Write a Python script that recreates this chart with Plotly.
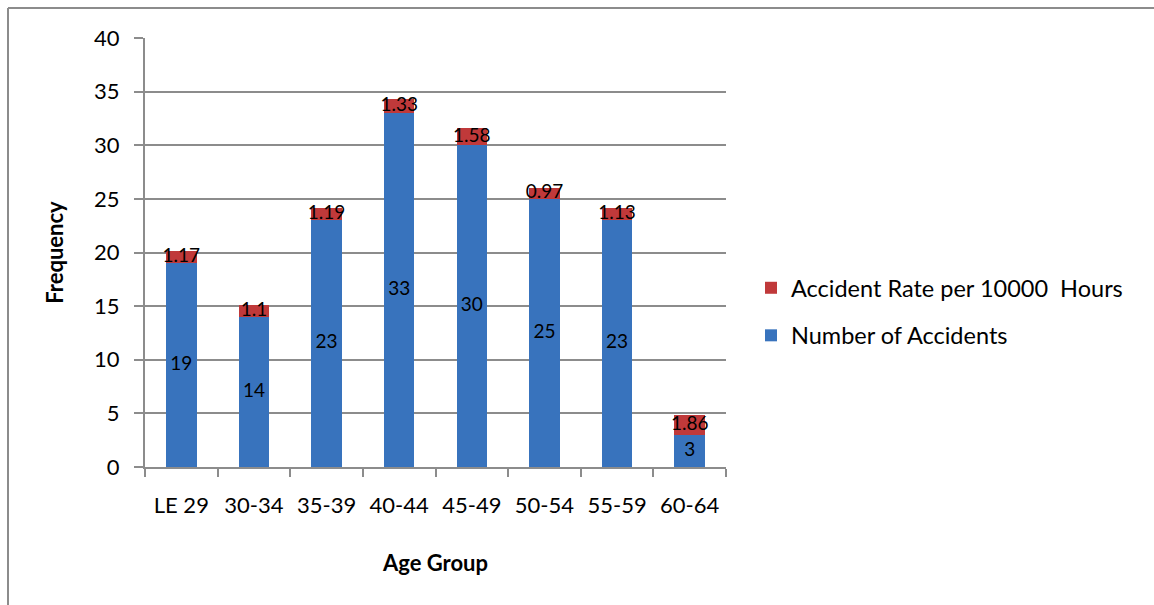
import plotly.graph_objects as go

# Accidents by age group, stacked with accident rate per 10000 hours
age_groups = ["LE 29", "30-34", "35-39", "40-44", "45-49", "50-54", "55-59", "60-64"]
num_accidents = [19, 14, 23, 33, 30, 25, 23, 3]
accident_rate = [1.17, 1.1, 1.19, 1.33, 1.58, 0.97, 1.13, 1.86]

BLUE = "#3873BD"
RED = "#C0393A"
GRID = "#8C8C8C"
FONT = "Lato"

W, H = 1154, 605
L, R, T, B = 145, 428, 38, 138

fig = go.Figure()

fig.add_trace(go.Bar(
    x=age_groups, y=num_accidents, name="Number of Accidents",
    marker=dict(color=BLUE, line=dict(width=0)),
    width=0.42, legendgroup="b", legendrank=2,
))
fig.add_trace(go.Bar(
    x=age_groups, y=accident_rate, name="Accident Rate per 10000  Hours",
    marker=dict(color=RED, line=dict(width=0)),
    width=0.42, legendgroup="a", legendrank=1,
))

# value labels centred in each stacked segment
fig.add_trace(go.Scatter(
    x=age_groups, y=[v / 2 for v in num_accidents],
    text=[str(v) for v in num_accidents], mode="text",
    textfont=dict(family=FONT, size=19, color="black"),
    showlegend=False, hoverinfo="skip",
))
fig.add_trace(go.Scatter(
    x=age_groups, y=[n + r / 2 for n, r in zip(num_accidents, accident_rate)],
    text=[f"{r:g}" for r in accident_rate], mode="text",
    textfont=dict(family=FONT, size=19, color="black"),
    showlegend=False, hoverinfo="skip",
))

pw = W - L - R
ph = H - T - B

fig.update_layout(
    width=W, height=H,
    margin=dict(l=L, r=R, t=T, b=B, pad=0),
    barmode="stack",
    paper_bgcolor="white", plot_bgcolor="white",
    font=dict(family=FONT, size=22, color="black"),
    showlegend=True,
    legend=dict(
        x=(751 - L) / pw, y=(467 - 266) / ph, xanchor="left", yanchor="top",
        traceorder="grouped", tracegroupgap=14,
        font=dict(family=FONT, size=23.5, color="black"),
        itemwidth=30, bgcolor="rgba(0,0,0,0)",
    ),
    xaxis=dict(
        type="category", tickson="boundaries",
        showline=True, linecolor=GRID, linewidth=2,
        ticks="outside", ticklen=8, tickcolor=GRID, tickwidth=2,
        showgrid=False, ticklabelstandoff=18,
        tickfont=dict(family=FONT, size=22),
        title=dict(text="<b>Age Group</b>", standoff=38,
                   font=dict(family=FONT, size=22)),
    ),
    yaxis=dict(
        range=[0, 40], dtick=5,
        showline=True, linecolor=GRID, linewidth=2,
        ticks="outside", ticklen=9, tickcolor=GRID, tickwidth=2,
        showgrid=True, gridcolor=GRID, gridwidth=2,
        zeroline=False, ticklabelstandoff=10,
        tickfont=dict(family=FONT, size=22),
        title=dict(text="<b>Frequency</b>", standoff=24,
                   font=dict(family=FONT, size=22)),
    ),
    shapes=[
        # outer chart frame (top and left edges)
        dict(type="line", xref="paper", yref="paper",
             x0=(8 - L) / pw, x1=(W + 5 - L) / pw,
             y0=(467 - 8) / ph, y1=(467 - 8) / ph,
             line=dict(color=GRID, width=2)),
        dict(type="line", xref="paper", yref="paper",
             x0=(8 - L) / pw, x1=(8 - L) / pw,
             y0=(467 - 8) / ph, y1=(467 - H - 5) / ph,
             line=dict(color=GRID, width=2)),
    ],
)

fig.write_html("out.html")
